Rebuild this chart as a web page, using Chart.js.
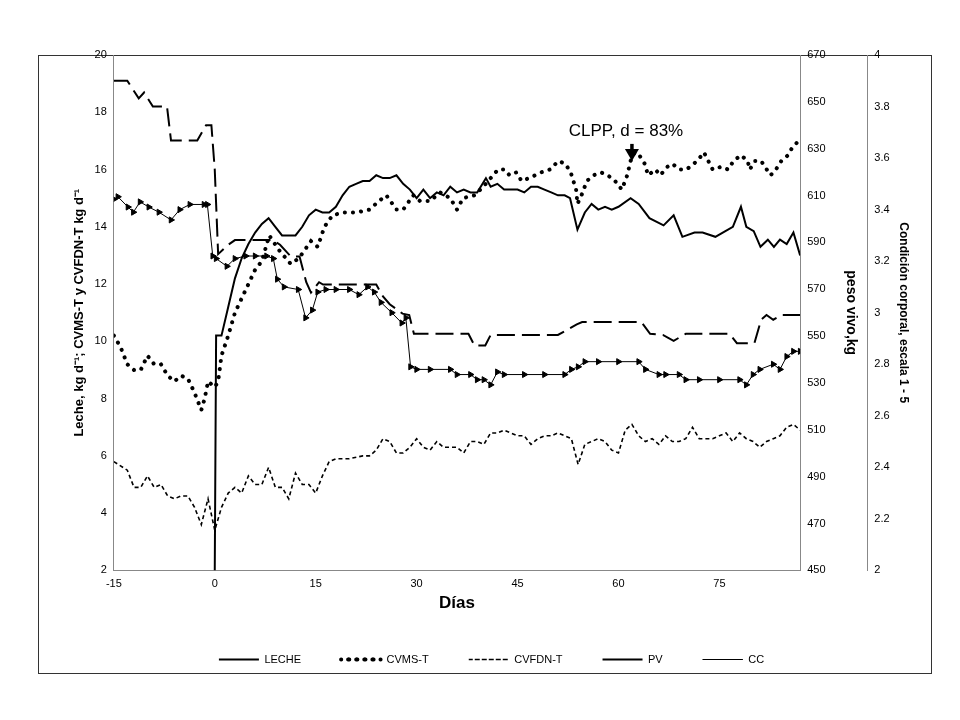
<!DOCTYPE html>
<html lang="es">
<head>
<meta charset="UTF-8">
<title>Leche, consumo, PV y CC</title>
<script src="https://cdn.jsdelivr.net/npm/chart.js"></script>
<style>
  body { margin: 0; background: #fff; }
  #marco { position: absolute; left: 38px; top: 55px; width: 892px; height: 617px; border: 1px solid #333; }
  #grafico { position: absolute; left: 0; top: 0; }
</style>
</head>
<body>
<div id="marco"></div>
<canvas id="grafico" width="960" height="720"></canvas>
<script>
// Datos
const lecheDias = [0, 0.2, 1, 2, 3, 4, 5, 6, 7, 8, 9, 10, 11, 12, 13, 14, 15, 16, 17, 18, 19, 20, 21, 22, 23, 24, 25, 26, 27, 28, 29, 30, 31, 32, 33, 34, 35, 36, 37, 38, 39, 40.3, 41, 42, 43, 44, 45, 46, 47, 48, 49, 50, 51, 52, 52.8, 53.9, 55, 56, 57, 58, 59, 60, 61.8, 63, 64.6, 66.7, 68.2, 69.5, 71.3, 72.5, 74.4, 75.5, 77, 78.2, 79, 80.1, 81.1, 82.2, 83.1, 84, 85, 86, 87];
const leche = [2, 10.2, 10.2, 11.2, 12.2, 12.9, 13.4, 13.8, 14.1, 14.3, 14.0, 13.7, 13.7, 13.7, 14.0, 14.4, 14.6, 14.5, 14.5, 14.7, 15.1, 15.4, 15.5, 15.6, 15.6, 15.8, 15.7, 15.7, 15.8, 15.5, 15.3, 15.0, 15.3, 15.0, 15.2, 15.1, 15.4, 15.2, 15.3, 15.2, 15.2, 15.7, 15.4, 15.5, 15.3, 15.3, 15.3, 15.2, 15.4, 15.4, 15.3, 15.2, 15.1, 15.1, 15.0, 13.9, 14.5, 14.8, 14.6, 14.7, 14.6, 14.7, 15.0, 14.8, 14.3, 14.05, 14.4, 13.65, 13.8, 13.8, 13.65, 13.8, 14.0, 14.7, 14.0, 13.85, 13.3, 13.55, 13.3, 13.55, 13.4, 13.8, 13.0];

const cvmsDias = [-15, -14, -13, -12, -11, -10, -9, -8, -7, -6, -5, -4, -3, -2, -1.5, -1, 0, 0.5, 1, 2, 3, 4, 5, 6, 7, 8.1, 9.5, 11.3, 12.5, 14.3, 15.3, 16.3, 17.5, 19, 21, 23, 24.4, 25.5, 27, 28, 29.5, 30.5, 32, 33.5, 35, 36, 36.9, 38.6, 39.9, 41, 42.1, 43.1, 43.8, 44.8, 45.6, 46.7, 48.5, 49.8, 51.1, 52.1, 52.9, 53.7, 53.9, 54.5, 55.3, 56.3, 57.4, 58.4, 59.5, 60.5, 61.3, 61.8, 62.4, 63.1, 63.9, 64.4, 65.5, 66.2, 67.3, 68, 69.1, 70.1, 71.7, 72.7, 74, 75.3, 76.3, 77.1, 78.2, 79.2, 79.5, 80.3, 81.2, 82.6, 83.4, 84.2, 85.2, 85.9, 86.8];
const cvms = [10.2, 9.8, 9.2, 9.0, 9.0, 9.5, 9.2, 9.2, 8.8, 8.6, 8.8, 8.7, 8.2, 7.6, 8.0, 8.6, 8.4, 8.6, 9.5, 10.2, 11.0, 11.5, 12.0, 12.5, 12.8, 13.7, 13.2, 12.7, 12.9, 13.5, 13.3, 14.0, 14.4, 14.5, 14.5, 14.6, 14.9, 15.1, 14.6, 14.6, 15.1, 14.9, 14.9, 15.2, 15.0, 14.6, 15.0, 15.1, 15.4, 15.7, 16.0, 16.0, 15.8, 15.9, 15.6, 15.7, 15.9, 16.0, 16.3, 16.2, 15.9, 15.3, 14.8, 15.1, 15.6, 15.8, 15.9, 15.8, 15.6, 15.3, 15.8, 16.3, 16.6, 16.5, 16.2, 15.8, 16.0, 15.8, 16.1, 16.2, 16.0, 16.0, 16.3, 16.6, 16.0, 16.1, 16.0, 16.3, 16.5, 16.3, 16.0, 16.3, 16.3, 15.8, 16.0, 16.3, 16.5, 16.8, 17.0];

const fdnDias = [-15, -13, -12, -11, -10, -9, -8, -7, -6, -5, -4, -3, -2, -1, 0, 1, 2, 3, 4, 5, 6, 7, 8, 9, 10, 11, 12, 13, 14, 15, 16, 17, 18, 20, 22, 23, 24, 25, 26, 27, 28, 29, 30, 31, 32, 33, 34, 36, 37, 38, 39, 40, 41, 42, 43, 44, 45, 46, 47, 48, 49, 50, 51, 52, 53, 54, 55, 56, 57, 58, 59, 60, 61, 62, 63, 64, 65, 66, 67, 68, 69, 70, 71, 72, 73, 74, 75, 76, 77, 78, 79, 80, 81, 82, 83, 84, 85, 86, 87];
const fdn = [5.8, 5.5, 4.9, 4.9, 5.3, 4.9, 5.0, 4.6, 4.5, 4.6, 4.6, 4.2, 3.6, 4.5, 3.4, 4.2, 4.7, 4.9, 4.7, 5.3, 5.0, 5.0, 5.6, 4.9, 4.9, 4.5, 5.4, 5.0, 5.0, 4.7, 5.3, 5.8, 5.9, 5.9, 6.0, 6.0, 6.2, 6.6, 6.5, 6.1, 6.1, 6.3, 6.6, 6.3, 6.2, 6.5, 6.3, 6.3, 6.1, 6.5, 6.5, 6.4, 6.8, 6.8, 6.9, 6.8, 6.7, 6.7, 6.4, 6.6, 6.7, 6.7, 6.8, 6.7, 6.6, 5.7, 6.4, 6.5, 6.6, 6.5, 6.2, 6.1, 6.9, 7.1, 6.7, 6.5, 6.6, 6.4, 6.7, 6.5, 6.5, 6.6, 7.0, 6.6, 6.6, 6.6, 6.7, 6.8, 6.5, 6.8, 6.6, 6.5, 6.3, 6.5, 6.6, 6.7, 7.0, 7.1, 6.9];

const pvDias = [-15, -13, -11.3, -10.5, -9.2, -7.1, -6.5, -2.6, -1.3, -0.5, 0, 0.5, 2, 3, 8.6, 9.7, 11.3, 12.6, 13.6, 14.3, 15.5, 16.1, 24, 25, 26, 27.9, 28.9, 29.6, 37.7, 38.6, 40.2, 41, 51, 53.8, 54.6, 63.4, 64.7, 66.6, 68.2, 70, 76.5, 77.6, 80.2, 81.2, 82, 83, 84.3, 87];
const pv = [659, 659, 651.5, 654, 648, 648, 633.5, 633.5, 640, 640, 621, 585, 589, 591, 591, 589, 584, 584, 573, 568.6, 573, 572, 572, 567, 563.6, 559.6, 559, 551, 551, 546, 546, 550.5, 550.5, 555, 556, 556, 551, 550.5, 548, 551, 551, 547, 547, 557, 559, 557, 559, 559];

const ccDias = [-15, -14.4, -12.9, -12.1, -11.1, -9.8, -8.3, -6.5, -5.2, -3.7, -1.6, -1.1, -0.3, 0.2, 1.8, 3, 4.6, 6, 7.7, 8.7, 9.3, 10.3, 12.4, 13.5, 14.5, 15.3, 16.5, 18, 20, 21.4, 22.7, 23.7, 24.7, 26.3, 27.8, 28.4, 29.1, 30, 32, 35, 36, 38, 39, 40, 41, 42, 43, 46, 49, 52, 53, 54, 55, 57, 60, 63, 64, 66, 67, 69, 70, 72, 75, 78, 79, 80, 81, 83, 84, 85, 86, 87];
const cc = [3.44, 3.45, 3.41, 3.39, 3.43, 3.41, 3.39, 3.36, 3.4, 3.42, 3.42, 3.42, 3.22, 3.21, 3.18, 3.21, 3.22, 3.22, 3.22, 3.21, 3.13, 3.1, 3.09, 2.98, 3.01, 3.08, 3.09, 3.09, 3.09, 3.07, 3.1, 3.08, 3.04, 3.0, 2.96, 2.98, 2.79, 2.78, 2.78, 2.78, 2.76, 2.76, 2.74, 2.74, 2.72, 2.77, 2.76, 2.76, 2.76, 2.76, 2.78, 2.79, 2.81, 2.81, 2.81, 2.81, 2.78, 2.76, 2.76, 2.76, 2.74, 2.74, 2.74, 2.74, 2.72, 2.76, 2.78, 2.8, 2.78, 2.83, 2.85, 2.85];

const ticksDias = [-15, 0, 15, 30, 45, 60, 75];

function pares(xs, ys) { return xs.map((x, i) => ({ x: x, y: ys[i] })); }

// anotación CLPP con flecha
const anotacion = {
  id: 'anotacion',
  afterDatasetsDraw(chart) {
    const c = chart.ctx, xs = chart.scales.x, ys = chart.scales.y;
    const px = xs.getPixelForValue(62);
    const top = ys.getPixelForValue(17.0), bot = ys.getPixelForValue(16.3);
    c.save();
    c.fillStyle = '#000'; c.strokeStyle = '#000';
    c.font = '17px Arial, "Liberation Sans", sans-serif';
    c.textAlign = 'center'; c.textBaseline = 'bottom';
    c.fillText('CLPP, d = 83%', px - 6, top - 1);
    c.lineWidth = 3.5;
    c.beginPath(); c.moveTo(px, top + 3); c.lineTo(px, bot - 10); c.stroke();
    c.beginPath(); c.moveTo(px - 7, bot - 12); c.lineTo(px + 7, bot - 12); c.lineTo(px, bot); c.closePath(); c.fill();
    c.restore();
  }
};

const fuente = { family: 'Arial, "Liberation Sans", sans-serif' };

new Chart(document.getElementById('grafico'), {
  type: 'line',
  data: {
    datasets: [
      { label: 'LECHE', data: pares(lecheDias, leche), yAxisID: 'y', borderColor: '#000', borderWidth: 2, pointRadius: 0, tension: 0 },
      { label: 'CVMS-T', data: pares(cvmsDias, cvms), yAxisID: 'y', borderColor: '#000', borderWidth: 4, borderDash: [0.1, 8], borderCapStyle: 'round', pointRadius: 0 },
      { label: 'CVFDN-T', data: pares(fdnDias, fdn), yAxisID: 'y', borderColor: '#000', borderWidth: 1.6, borderDash: [4, 3], pointRadius: 0 },
      { label: 'PV', data: pares(pvDias, pv), yAxisID: 'pv', borderColor: '#000', borderWidth: 2, borderDash: [18, 7], pointRadius: 0 },
      { label: 'CC', data: pares(ccDias, cc), yAxisID: 'cc', borderColor: '#000', backgroundColor: '#000', borderWidth: 1, pointStyle: 'triangle', rotation: 90, pointRadius: 3.5 }
    ]
  },
  options: {
    responsive: false,
    animation: false,
    layout: { padding: { left: 68, right: 45, top: 55, bottom: 45 } },
    plugins: {
      tooltip: { enabled: false },
      legend: {
        position: 'bottom',
        labels: {
          color: '#000', boxWidth: 40, boxHeight: 0, padding: 40,
          font: { ...fuente, size: 11 }
        }
      }
    },
    scales: {
      x: {
        type: 'linear', min: -15, max: 87,
        afterBuildTicks: ax => { ax.ticks = ticksDias.map(v => ({ value: v })); },
        grid: { display: false, drawTicks: true, tickLength: 4 },
        border: { color: '#888' },
        ticks: { color: '#000', font: { ...fuente, size: 11 } },
        title: { display: true, text: 'Días', color: '#000', font: { ...fuente, size: 17, weight: 'bold' }, padding: 0 }
      },
      y: {
        position: 'left', min: 2, max: 20,
        ticks: { stepSize: 2, color: '#000', font: { ...fuente, size: 11 } },
        grid: { display: false, tickLength: 4 },
        border: { color: '#888' },
        title: { display: true, text: 'Leche, kg d⁻¹; CVMS-T y CVFDN-T kg d⁻¹', color: '#000', font: { ...fuente, size: 13, weight: 'bold' } }
      },
      pv: {
        position: 'right', min: 450, max: 670,
        ticks: { stepSize: 20, color: '#000', font: { ...fuente, size: 11 } },
        grid: { display: false, tickLength: 4 },
        border: { color: '#888' },
        title: { display: true, text: 'peso vivo,kg', color: '#000', font: { ...fuente, size: 14, weight: 'bold' }, padding: { top: 8, bottom: 14 } }
      },
      cc: {
        position: 'right', min: 2, max: 4,
        ticks: { stepSize: 0.2, color: '#000', font: { ...fuente, size: 11 }, callback: v => Number(v.toFixed(1)) },
        grid: { display: false, tickLength: 4 },
        border: { color: '#888' },
        title: { display: true, text: 'Condición corporal, escala 1 - 5', color: '#000', font: { ...fuente, size: 12, weight: 'bold' } }
      }
    }
  },
  plugins: [anotacion]
});
</script>
</body>
</html>
